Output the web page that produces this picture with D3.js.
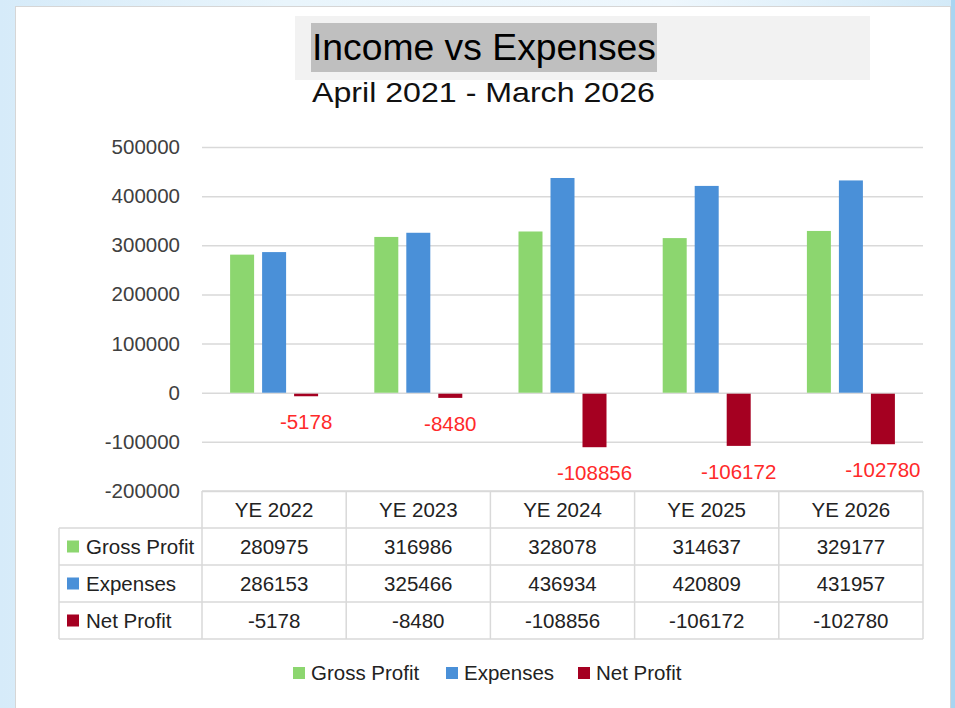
<!DOCTYPE html>
<html>

<head>
    <meta charset=utf-8 />
    <script src="https://cdn.jsdelivr.net/npm/d3@7"></script>
    <title>Income vs Expenses</title>
    <style>
        html,
        body {
            margin: 0;
            padding: 0;
            width: 955px;
            height: 708px;
            overflow: hidden;
        }

        body {
            background: linear-gradient(90deg, #d6ebf9 0%, #e9f5fc 30%, #eef7fd 70%, #d3eaf8 100%);
        }

        svg {
            display: block;
        }

        text {
            font-family: "Liberation Sans", Arial, sans-serif;
        }
    </style>
</head>

<body>
    <svg width="955" height="708"></svg>
    <script>
        var categories = ['YE 2022', 'YE 2023', 'YE 2024', 'YE 2025', 'YE 2026'];
        var seriesNames = ['Gross Profit', 'Expenses', 'Net Profit'];
        var grossProfit = [280975, 316986, 328078, 314637, 329177];
        var expenses = [286153, 325466, 436934, 420809, 431957];
        var netProfit = [-5178, -8480, -108856, -106172, -102780];
        var yTicks = [500000, 400000, 300000, 200000, 100000, 0, -100000, -200000];

        var seriesValues = [grossProfit, expenses, netProfit];
        var colors = ['#8cd66f', '#4a90d8', '#a50021'];
        var fontSize = 20.5;

        // plain hyphen for negatives, like the original
        function fmt(v) {
            return String(v);
        }

        var svg = d3.select('svg');

        // panel
        svg.append('rect')
            .attr('x', 15.5).attr('y', 6.5)
            .attr('width', 935).attr('height', 710)
            .attr('fill', '#fff')
            .attr('stroke', '#d6d6d6');
        svg.append('rect')
            .attr('x', 951).attr('y', 0)
            .attr('width', 4).attr('height', 708)
            .attr('fill', '#a9d5f1');

        // title
        svg.append('rect')
            .attr('x', 295).attr('y', 16)
            .attr('width', 575).attr('height', 64)
            .attr('fill', '#f2f2f2');
        svg.append('rect')
            .attr('x', 311).attr('y', 23)
            .attr('width', 346).attr('height', 49)
            .attr('fill', '#bfbfbf');
        svg.append('text')
            .attr('x', 312).attr('y', 60)
            .attr('font-size', 37)
            .attr('textLength', 344)
            .attr('lengthAdjust', 'spacingAndGlyphs')
            .attr('fill', '#000')
            .text('Income vs Expenses');
        svg.append('text')
            .attr('x', 312).attr('y', 102)
            .attr('font-size', 28.5)
            .attr('textLength', 343)
            .attr('lengthAdjust', 'spacingAndGlyphs')
            .attr('fill', '#111')
            .text('April 2021 - March 2026');

        var x = d3.scaleBand()
            .domain(categories)
            .range([202, 923]);

        var xs = d3.scaleBand()
            .domain(seriesNames)
            .range([28.1, 116.1])
            .paddingInner(0.25);

        var y = d3.scaleLinear()
            .domain([-200000, 500000])
            .range([491, 147]);

        // gridlines + tick labels
        var yAxis = d3.axisLeft(y)
            .tickValues(yTicks)
            .tickSize(-(923 - 202))
            .tickPadding(22)
            .tickFormat(fmt);

        var ga = svg.append('g')
            .attr('transform', 'translate(202,0)')
            .call(yAxis);
        ga.select('.domain').remove();
        ga.selectAll('.tick line').attr('stroke', '#d9d9d9').attr('stroke-width', 1.5);
        ga.selectAll('.tick text')
            .attr('fill', '#404040')
            .attr('font-size', fontSize)
            .attr('font-family', '"Liberation Sans", Arial, sans-serif');

        // bars
        var groups = svg.append('g').selectAll('g')
            .data(seriesNames)
            .enter().append('g')
            .attr('fill', function (d, i) { return colors[i]; });

        groups.selectAll('rect')
            .data(function (d, i) {
                return seriesValues[i].map(function (v, j) {
                    return { s: d, c: categories[j], v: v };
                });
            })
            .enter().append('rect')
            .attr('x', function (d) { return x(d.c) + xs(d.s); })
            .attr('width', xs.bandwidth())
            .attr('y', function (d) { return d.v >= 0 ? y(d.v) : y(0) + 1; })
            .attr('height', function (d) { return Math.abs(y(d.v) - y(0)); });

        // net profit labels
        svg.append('g').selectAll('text')
            .data(netProfit)
            .enter().append('text')
            .attr('x', function (d, j) { return x(categories[j]) + xs('Net Profit') + xs.bandwidth() / 2; })
            .attr('y', function (d) { return y(d) + 34; })
            .attr('text-anchor', 'middle')
            .attr('font-size', fontSize)
            .attr('fill', '#ff2a2a')
            .text(fmt);

        // data table
        var rowH = 37;
        var tableTop = 491;
        var tableLeft = 59;
        var tableRight = 923;
        var colLeft = 202;
        var lineColor = '#d9d9d9';
        var table = svg.append('g');

        table.append('line')
            .attr('x1', colLeft).attr('x2', tableRight)
            .attr('y1', tableTop).attr('y2', tableTop);
        for (var r = 1; r <= 4; r++) {
            table.append('line')
                .attr('x1', tableLeft).attr('x2', tableRight)
                .attr('y1', tableTop + r * rowH).attr('y2', tableTop + r * rowH);
        }
        table.append('line')
            .attr('x1', tableLeft).attr('x2', tableLeft)
            .attr('y1', tableTop + rowH).attr('y2', tableTop + 4 * rowH);
        categories.forEach(function (c) {
            table.append('line')
                .attr('x1', x(c)).attr('x2', x(c))
                .attr('y1', tableTop).attr('y2', tableTop + 4 * rowH);
        });
        table.append('line')
            .attr('x1', tableRight).attr('x2', tableRight)
            .attr('y1', tableTop).attr('y2', tableTop + 4 * rowH);
        table.selectAll('line')
            .attr('stroke', lineColor)
            .attr('stroke-width', 1.5);

        table.selectAll('text.head')
            .data(categories)
            .enter().append('text')
            .attr('class', 'head')
            .attr('x', function (d) { return x(d) + x.bandwidth() / 2; })
            .attr('y', tableTop + rowH / 2 + 7)
            .attr('text-anchor', 'middle')
            .attr('font-size', fontSize)
            .attr('fill', '#222')
            .text(function (d) { return d; });

        seriesNames.forEach(function (s, i) {
            var rowY = tableTop + (i + 1) * rowH;
            table.append('rect')
                .attr('x', 67).attr('y', rowY + rowH / 2 - 6)
                .attr('width', 12).attr('height', 12)
                .attr('fill', colors[i]);
            table.append('text')
                .attr('x', 86).attr('y', rowY + rowH / 2 + 7)
                .attr('font-size', fontSize)
                .attr('fill', '#222')
                .text(s);
            table.selectAll('text.v' + i)
                .data(seriesValues[i])
                .enter().append('text')
                .attr('class', 'v' + i)
                .attr('x', function (d, j) { return x(categories[j]) + x.bandwidth() / 2; })
                .attr('y', rowY + rowH / 2 + 7)
                .attr('text-anchor', 'middle')
                .attr('font-size', fontSize)
                .attr('fill', '#222')
                .text(fmt);
        });

        // legend
        var legendX = [293, 446, 578];
        var legend = svg.append('g').selectAll('g')
            .data(seriesNames)
            .enter().append('g')
            .attr('transform', function (d, i) { return 'translate(' + legendX[i] + ',673)'; });
        legend.append('rect')
            .attr('x', 0).attr('y', -6)
            .attr('width', 12).attr('height', 12)
            .attr('fill', function (d, i) { return colors[i]; });
        legend.append('text')
            .attr('x', 18).attr('y', 7)
            .attr('font-size', fontSize)
            .attr('fill', '#222')
            .text(function (d) { return d; });
    </script>
</body>

</html>
